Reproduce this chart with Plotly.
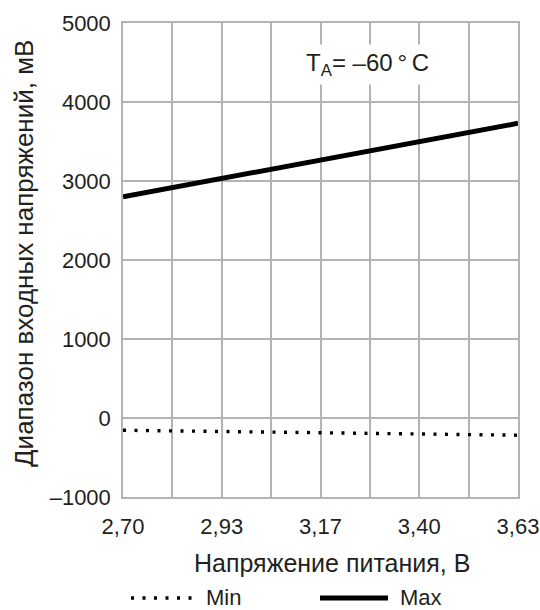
import plotly.graph_objects as go

# Supply voltage, V
supply_v = [2.70, 2.81625, 2.9325, 3.04875, 3.165, 3.28125, 3.3975, 3.51375, 3.63]
x_ticks = [2.70, 2.9325, 3.165, 3.3975, 3.63]
x_labels = ["2,70", "2,93", "3,17", "3,40", "3,63"]
x_minor = [2.81625, 3.04875, 3.28125, 3.51375]

# Input voltage range limits, mV
v_min = [-155, -162, -170, -178, -186, -194, -202, -210, -218]
v_max = [2800, 2916, 3033, 3149, 3265, 3381, 3498, 3614, 3730]

y_ticks = [-1000, 0, 1000, 2000, 3000, 4000, 5000]
y_labels = ["\u20131000", "0", "1000", "2000", "3000", "4000", "5000"]

FONT = "Liberation Sans, Arial, sans-serif"
TXT = "#231f20"
GRID = "#b3b3b3"
TICK_FS = 22
TITLE_FS = 25
DOTS = "3px,8.5px"

# plot area in pixels
L, R, T, B = 123, 22, 23, 113
W, H = 540, 610
PW, PH = W - L - R, H - T - B


def px(xp):
    return (xp - L) / PW


def py(yp):
    return (H - B - yp) / PH


fig = go.Figure()
fig.add_trace(go.Scatter(
    x=supply_v, y=v_min, mode="lines", name="Min", showlegend=False,
    line=dict(color="black", width=3.4, dash=DOTS),
))
fig.add_trace(go.Scatter(
    x=supply_v, y=v_max, mode="lines", name="Max", showlegend=False,
    line=dict(color="black", width=5),
))

fig.add_annotation(
    x=3.2745, y=4480, xref="x", yref="y",
    text="T<sub>A</sub>= \u201360\u2009\u00b0\u2009C",
    showarrow=False, bgcolor="white",
    font=dict(family=FONT, size=24, color=TXT),
    borderpad=4,
)

# axis titles
fig.add_annotation(xref="paper", yref="paper", x=px(332), y=py(563),
                   xanchor="center", yanchor="middle", showarrow=False,
                   text="Напряжение питания, В",
                   font=dict(family=FONT, size=TITLE_FS, color=TXT))
fig.add_annotation(xref="paper", yref="paper", x=px(24), y=py(254),
                   xanchor="center", yanchor="middle", showarrow=False,
                   textangle=-90, text="Диапазон входных напряжений, мВ",
                   font=dict(family=FONT, size=26, color=TXT))

# legend drawn below the x axis title
leg_y = py(598)
fig.add_shape(type="line", xref="paper", yref="paper",
              x0=px(131), x1=px(196), y0=leg_y, y1=leg_y,
              line=dict(color="black", width=3.4, dash=DOTS))
fig.add_annotation(xref="paper", yref="paper", x=px(204), y=py(597),
                   xanchor="left", yanchor="middle", text="Min", showarrow=False,
                   font=dict(family=FONT, size=TICK_FS, color=TXT))
fig.add_shape(type="line", xref="paper", yref="paper",
              x0=px(320), x1=px(388), y0=leg_y, y1=leg_y,
              line=dict(color="black", width=5))
fig.add_annotation(xref="paper", yref="paper", x=px(398), y=py(597),
                   xanchor="left", yanchor="middle", text="Max", showarrow=False,
                   font=dict(family=FONT, size=TICK_FS, color=TXT))

fig.update_layout(
    width=W, height=H,
    margin=dict(l=L, r=R, t=T, b=B, autoexpand=False),
    paper_bgcolor="white", plot_bgcolor="white",
    font=dict(family=FONT, size=TICK_FS, color=TXT),
    showlegend=False,
    xaxis=dict(
        range=[2.70, 3.63], tickmode="array", tickvals=x_ticks, ticktext=x_labels,
        showgrid=True, gridcolor=GRID, gridwidth=1.5,
        minor=dict(tickmode="array", tickvals=x_minor, showgrid=True,
                   gridcolor=GRID, gridwidth=1.5, ticks=""),
        showline=True, linecolor=GRID, linewidth=1.5, mirror=True,
        ticks="", zeroline=False, ticklabelstandoff=9, automargin=False,
        tickfont=dict(family=FONT, size=TICK_FS, color=TXT),
    ),
    yaxis=dict(
        range=[-1000, 5000], tickvals=y_ticks, ticktext=y_labels,
        showgrid=True, gridcolor=GRID, gridwidth=1.5,
        showline=True, linecolor=GRID, linewidth=1.5, mirror=True,
        ticks="", zeroline=False, ticklabelstandoff=6, automargin=False,
        tickfont=dict(family=FONT, size=TICK_FS, color=TXT),
    ),
)

fig.write_html("out.html")
